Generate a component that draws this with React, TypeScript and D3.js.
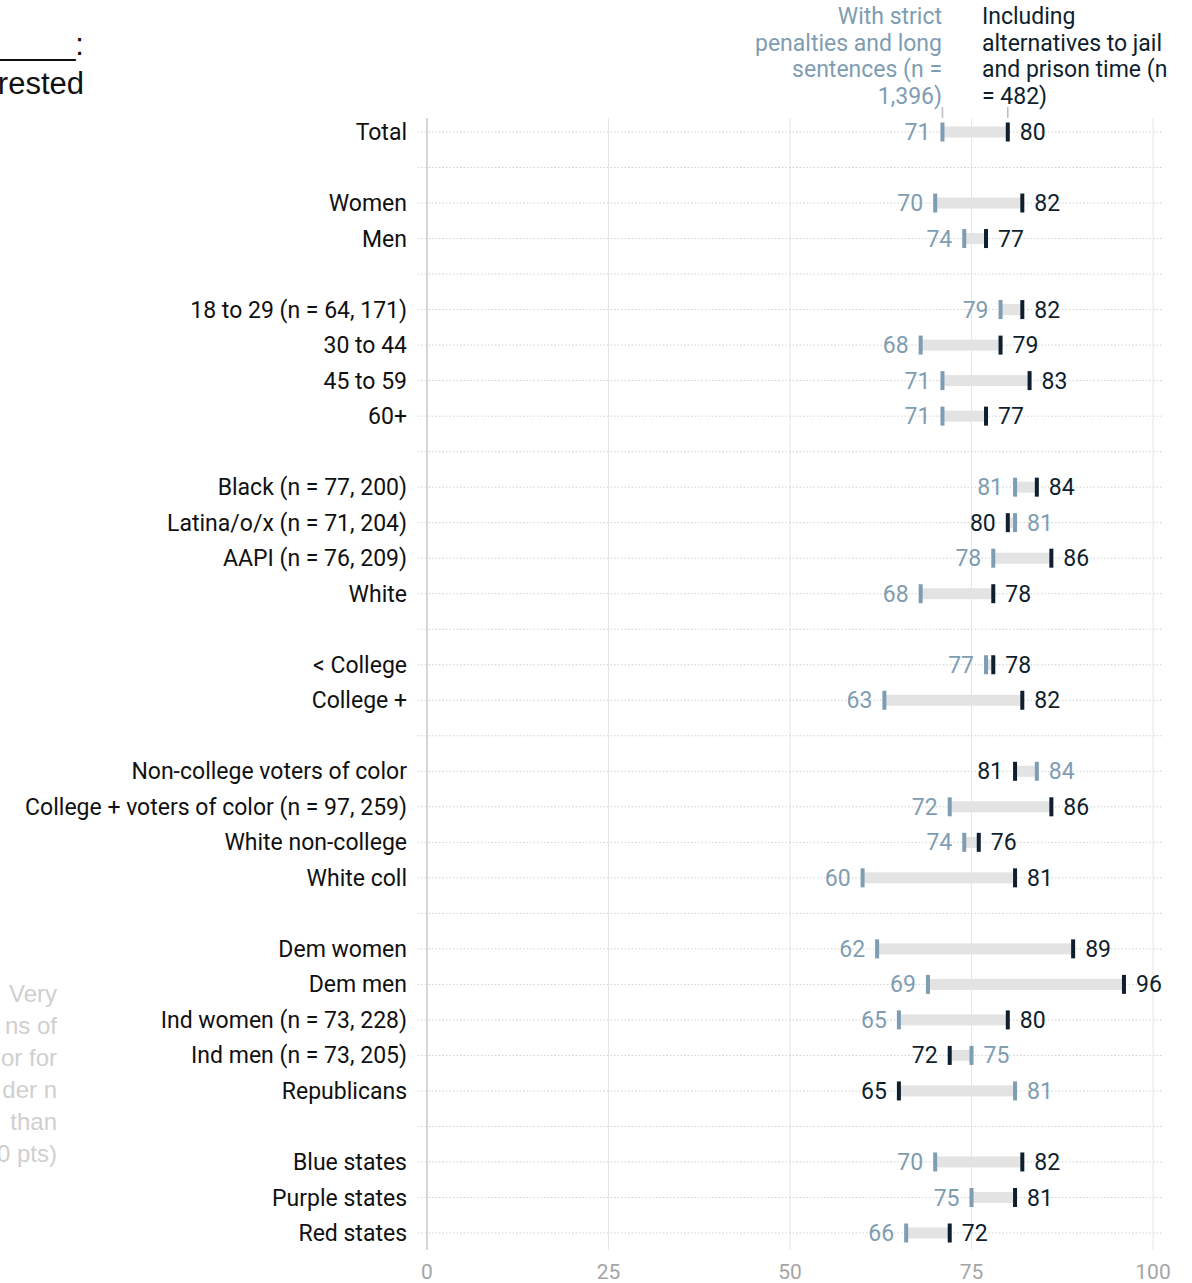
import React from "react";
import * as d3 from "d3";

const categories: string[] = [
  "Total", "", "Women", "Men", "",
  "18 to 29 (n = 64, 171)", "30 to 44", "45 to 59", "60+", "",
  "Black (n = 77, 200)", "Latina/o/x (n = 71, 204)", "AAPI (n = 76, 209)", "White", "",
  "< College", "College +", "",
  "Non-college voters of color", "College + voters of color (n = 97, 259)", "White non-college", "White coll", "",
  "Dem women", "Dem men", "Ind women (n = 73, 228)", "Ind men (n = 73, 205)", "Republicans", "",
  "Blue states", "Purple states", "Red states",
];
const strictValues: (number | null)[] = [
  71, null, 70, 74, null,
  79, 68, 71, 71, null,
  81, 81, 78, 68, null,
  77, 63, null,
  84, 72, 74, 60, null,
  62, 69, 65, 75, 81, null,
  70, 75, 66,
];
const altValues: (number | null)[] = [
  80, null, 82, 77, null,
  82, 79, 83, 77, null,
  84, 80, 86, 78, null,
  78, 82, null,
  81, 86, 76, 81, null,
  89, 96, 80, 72, 65, null,
  82, 81, 72,
];
const xTicks: number[] = [0, 25, 50, 75, 100];
const strictHeader: string[] = ["With strict", "penalties and long", "sentences (n =", "1,396)"];
const altHeader: string[] = ["Including", "alternatives to jail", "and prison time (n", "= 482)"];
const titleLines: string[] = ["_______:", "rested"];
const noteLines: string[] = ["Very", "ns of", "or for", "der n", "than", "0 pts)"];

const BLUE = "#7f9db2";
const DARK = "#0f1f2e";
const FONT = "Roboto, 'Noto Sans', sans-serif";

export default function App() {
  const W = 1192, H = 1283;
  const x = d3.scaleLinear().domain([0, 100]).range([427, 1153]);
  const y = d3.scalePoint<number>().domain(d3.range(categories.length)).range([132, 1233]);

  return (
    <svg width={W} height={H} style={{ position: "absolute", left: 0, top: 0, background: "#fff" }} fontFamily={FONT}>
      {/* clipped title */}
      {titleLines.map((t, i) => (
        <text key={"t" + i} x={84} y={[55, 94][i]} textAnchor="end" fontSize={31} fill="#111" fontFamily="'Liberation Sans', Arial, sans-serif">{t}</text>
      ))}
      {/* faded note */}
      {noteLines.map((t, i) => (
        <text key={"n" + i} x={57} y={1002 + i * 32} textAnchor="end" fontSize={24} fill="#cfcfcf" fontFamily="'Liberation Sans', Arial, sans-serif">{t}</text>
      ))}
      {/* headers */}
      {strictHeader.map((t, i) => (
        <text key={"sh" + i} x={942} y={24 + i * 26.5} textAnchor="end" fontSize={23} fill={BLUE}>{t}</text>
      ))}
      {altHeader.map((t, i) => (
        <text key={"ah" + i} x={982} y={24 + i * 26.5} textAnchor="start" fontSize={23} fill={DARK}>{t}</text>
      ))}
      <line x1={x(strictValues[0]!)} x2={x(strictValues[0]!)} y1={107} y2={118} stroke="#bbb" strokeWidth={1.5} />
      <line x1={x(altValues[0]!)} x2={x(altValues[0]!)} y1={107} y2={118} stroke="#bbb" strokeWidth={1.5} />
      {/* vertical grid */}
      {xTicks.map((t) => (
        <line key={"g" + t} x1={x(t)} x2={x(t)} y1={118} y2={1250} stroke={t === 0 ? "#c8c8c8" : "#e6e6e6"} strokeWidth={t === 0 ? 1.5 : 1} />
      ))}
      {/* horizontal dotted lines */}
      {categories.map((_, i) => (
        <line key={"h" + i} x1={418} x2={1163} y1={y(i)!} y2={y(i)!} stroke="#d0d0d0" strokeWidth={1} strokeDasharray="1.5 2" />
      ))}
      {/* axis labels */}
      {xTicks.map((t) => (
        <text key={"xl" + t} x={x(t)} y={1272} dy="0.35em" textAnchor="middle" fontSize={21} fill="#a5a5a5">{t}</text>
      ))}
      {/* rows */}
      {categories.map((c, i) => {
        const s = strictValues[i];
        const a = altValues[i];
        const yy = y(i)!;
        if (s == null || a == null) return null;
        const lo = Math.min(s, a), hi = Math.max(s, a);
        const strictLeft = s <= a;
        return (
          <g key={"r" + i}>
            <text x={407} y={yy} dy="0.35em" textAnchor="end" fontSize={23} fill="#111">{c}</text>
            <rect x={x(lo)} y={yy - 5.5} width={x(hi) - x(lo)} height={11} fill="#e3e3e3" />
            <rect x={x(s) - 2} y={yy - 9.5} width={4} height={19} fill={BLUE} />
            <rect x={x(a) - 2} y={yy - 9.5} width={4} height={19} fill={DARK} />
            <text x={strictLeft ? x(s) - 12 : x(s) + 12} y={yy} dy="0.35em" textAnchor={strictLeft ? "end" : "start"} fontSize={23} fill={BLUE}>{s}</text>
            <text x={strictLeft ? x(a) + 12 : x(a) - 12} y={yy} dy="0.35em" textAnchor={strictLeft ? "start" : "end"} fontSize={23} fill={DARK}>{a}</text>
          </g>
        );
      })}
    </svg>
  );
}
